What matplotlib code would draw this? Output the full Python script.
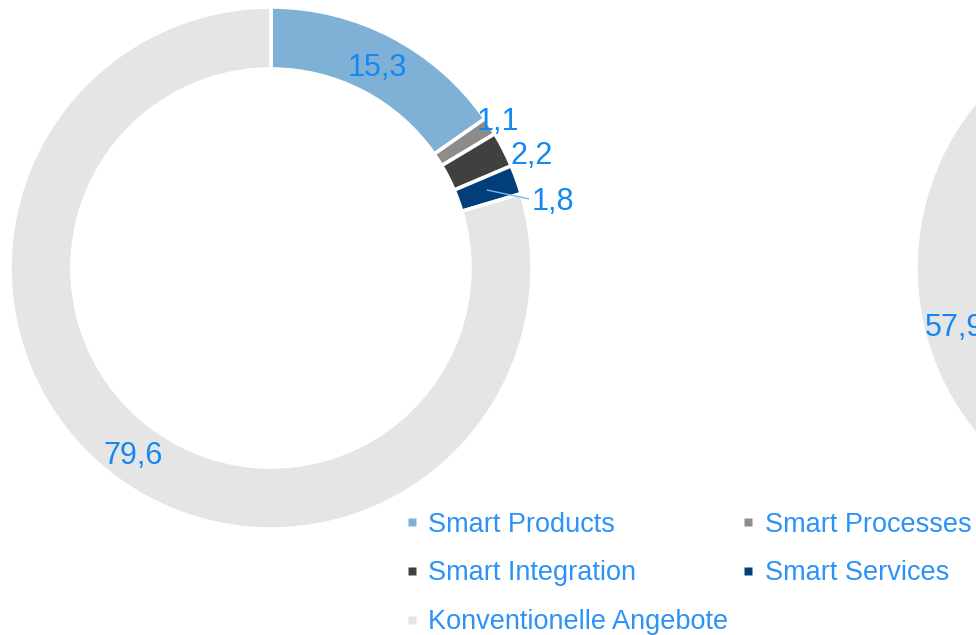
import numpy as np
import matplotlib.pyplot as plt
from matplotlib.lines import Line2D

plt.rcParams['font.family'] = ['Liberation Sans', 'DejaVu Sans']

# data
categories = ["Smart Products", "Smart Processes", "Smart Integration",
              "Smart Services", "Konventionelle Angebote"]
colors = ["#7fb1d6", "#8c8c8c", "#404040", "#003f7a", "#e5e5e5"]
values_left = [15.3, 1.1, 2.2, 1.8, 79.6]
values_right = [28.4, 3.6, 5.8, 4.3, 57.9]   # only the 57,9 part is visible

label_color = "#1487f2"
legend_color = "#2b92f7"

W, H = 976, 635
fig = plt.figure(figsize=(W / 100, H / 100), dpi=100)
ax = fig.add_axes([0, 0, 1, 1])

R_OUT, RING = 261, 62


def draw_donut(cx, cy, values, label_r, label_dt, leader):
    ax.pie(values, colors=colors, startangle=90, counterclock=False,
           radius=R_OUT, center=(cx, cy),
           wedgeprops=dict(width=RING, edgecolor="white", linewidth=2.6))
    total = sum(values)
    start = 0.0
    for i, v in enumerate(values):
        mid = (start + v / 2) / total * 360
        start += v
        th = np.radians(mid + label_dt[i])
        tx = cx + label_r[i] * np.sin(th)
        ty = cy + label_r[i] * np.cos(th)
        if tx - 30 > W:
            continue  # label lies outside the picture
        txt = f"{v:.1f}".replace(".", ",")
        ax.text(tx, ty, txt, ha="center", va="center_baseline", fontsize=22,
                color=label_color, clip_on=False)
        if leader[i]:
            m = np.radians(mid)
            r_mid = R_OUT - RING / 2
            ax.plot([cx + r_mid * np.sin(m), tx - 24],
                    [cy + r_mid * np.cos(m), ty], color="#7ab8f5", lw=1)


cy = H - 268
draw_donut(271, cy, values_left, [230, 272, 285, 290, 230],
           [0, -0.5, 3, 6, 0], [False, False, False, True, False])
draw_donut(1177, cy, values_right, [230, 230, 230, 230, 230],
           [0, 0, 0, 0, 0], [False] * 5)

ax.set_xlim(0, W)
ax.set_ylim(0, H)
ax.set_aspect("equal")
ax.set_axis_off()

# legend, row-wise order as in the original
order = [0, 2, 4, 1, 3]
handles = [Line2D([], [], ls="none", marker="s", markersize=6,
                  markerfacecolor=colors[i], markeredgecolor="none")
           for i in order]
labels = [categories[i] for i in order]
ax.legend(handles, labels, ncol=2, loc="upper left",
          bbox_to_anchor=(390 / W, 1 - 498 / H), frameon=False,
          fontsize=19.5, labelcolor=legend_color, borderpad=0,
          handlelength=0.6, handletextpad=0.3, labelspacing=0.84,
          columnspacing=0.45)

fig.savefig("out.png", dpi=100)
